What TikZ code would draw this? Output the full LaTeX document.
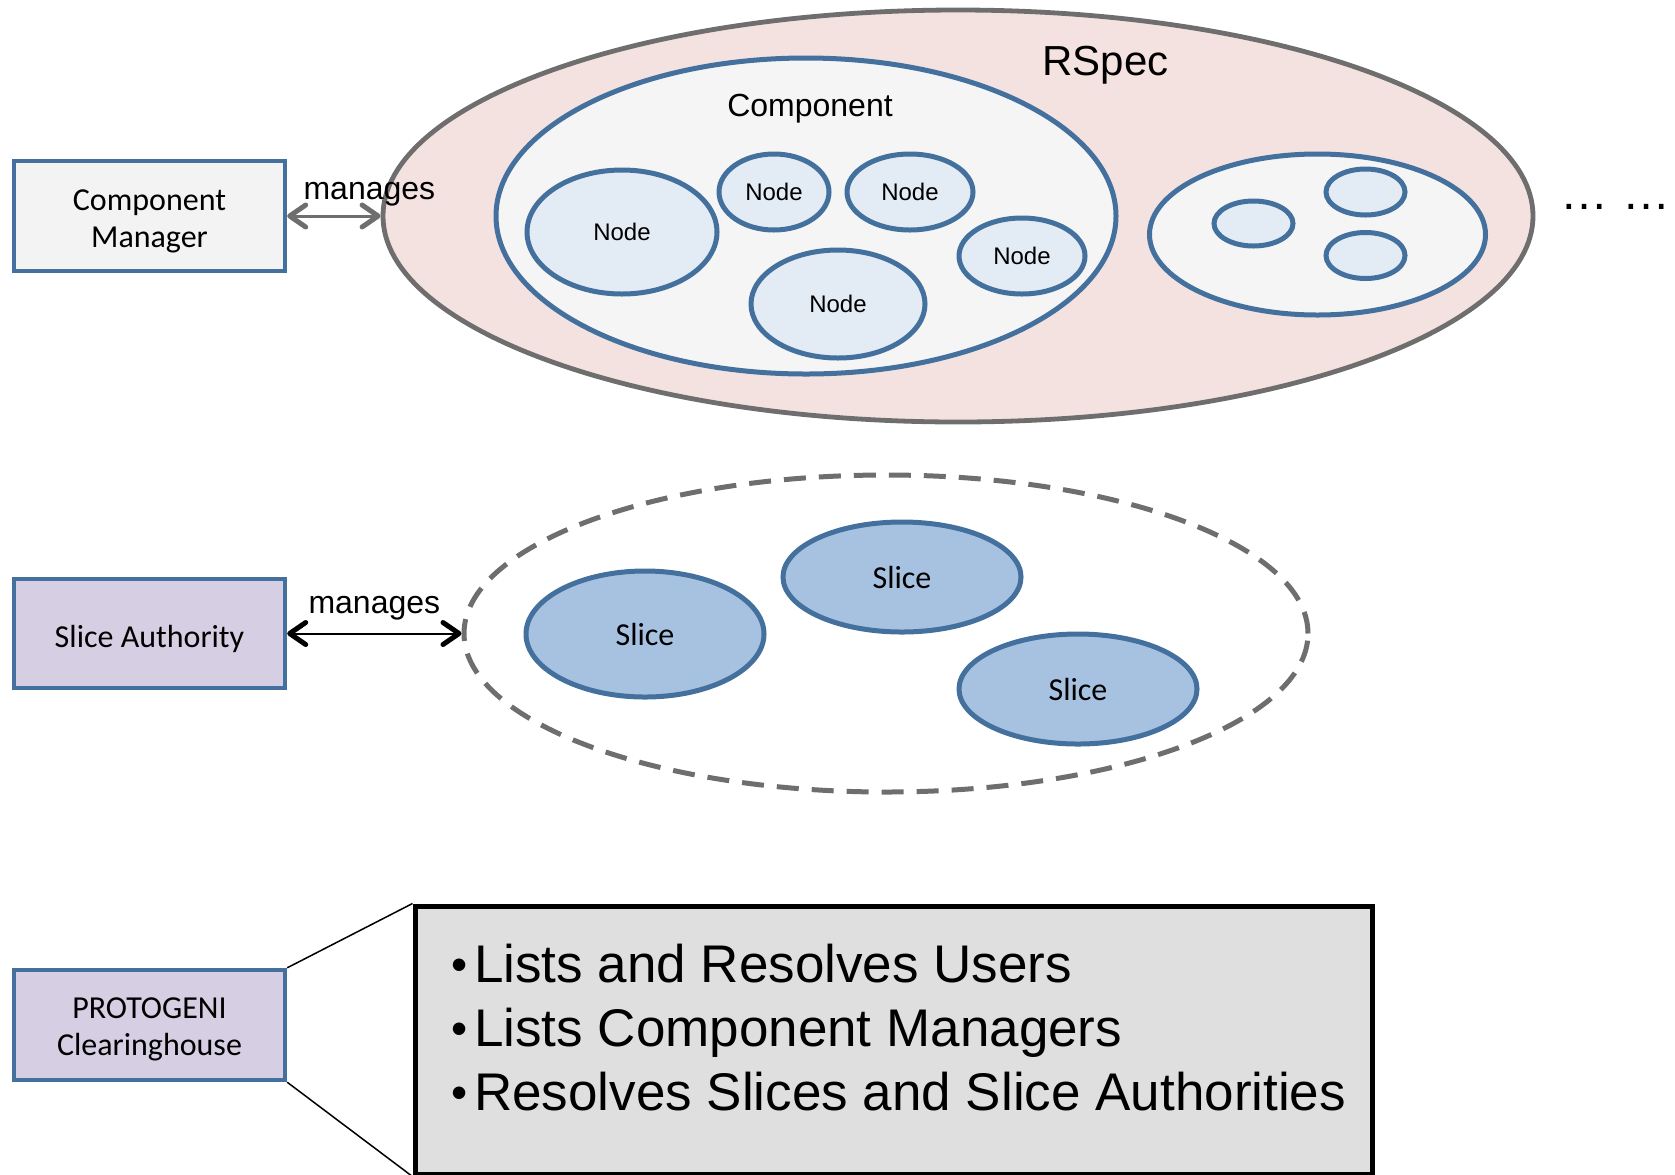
\documentclass[tikz,border=0pt]{standalone}
\usepackage{fontspec}
\setmainfont{Liberation Sans}
\newfontfamily\calibrifont{Carlito}
\usetikzlibrary{shapes.geometric,arrows.meta}

\definecolor{pgblue}{HTML}{44709D}
\definecolor{pggray}{HTML}{6E6E6E}
\definecolor{rspecfill}{HTML}{F4E2E1}
\definecolor{compfill}{HTML}{F5F5F5}
\definecolor{nodefill}{HTML}{E3EBF5}
\definecolor{slicefill}{HTML}{A7C1E0}
\definecolor{authfill}{HTML}{D6CEE2}
\definecolor{mgrfill}{HTML}{F3F3F3}
\definecolor{infofill}{HTML}{DFDFDF}

\newcommand{\infodot}{\raisebox{1pt}{\fontsize{23}{23}\selectfont •}\hspace{3.3pt}}

\tikzset{
  barb/.tip={Straight Barb[length=8pt,width=11pt,line width'=2.5pt,round]},
  dims/.style 2 args={minimum width=#1pt, minimum height=#2pt},
  mgrbox/.style={
    rectangle,
    draw=pgblue, line width=2.2pt,
    dims={135.5}{55},
    align=center,
    text depth=0pt, text height=31.5pt,
    font=\calibrifont\fontsize{16}{18.5}\selectfont},
  blob/.style={ellipse, draw=pgblue, line width=2.5pt, inner sep=0pt},
  pcnode/.style={blob, fill=nodefill, font=\fontsize{12}{14}\selectfont},
  slicenode/.style={blob, fill=slicefill, font=\calibrifont\fontsize{16}{18}\selectfont},
  tag/.style={anchor=base, inner sep=0pt},
  manages/.style={text=black, font=\fontsize{16}{18}\selectfont, inner sep=2pt},
  infobox/.style={
    rectangle,
    draw=black, line width=2.5pt,
    fill=infofill,
    dims={478.5}{134}},
  infotext/.style={align=left, inner sep=0pt, font=\fontsize{26.5}{32}\selectfont},
}

\begin{document}
\begin{tikzpicture}[x=0.5pt, y=-0.5pt]

    \useasboundingbox (0,0) rectangle (1675,1174);

    % resources
    \node[ellipse, draw=pggray, line width=2.4pt, fill=rspecfill, dims={575}{206}] (rspec) at (958,216) {};
    \node[tag, font=\fontsize{21}{24}\selectfont] (rspeclbl) at (1105.5,75) {RSpec};

    \node[blob, fill=compfill, dims={310}{158}] (comp) at (806,216) {};
    \node[tag, font=\fontsize{16}{18}\selectfont] (complbl) at (810,116) {Component};

    \node[pcnode, dims={95}{62}] (n1) at (622,232) {Node};
    \node[pcnode, dims={55}{38}] (n2) at (774,192) {Node};
    \node[pcnode, dims={63}{38}] (n3) at (910,192) {Node};
    \node[pcnode, dims={63}{38}] (n4) at (1022,256) {Node};
    \node[pcnode, dims={87}{54}] (n5) at (838,304) {Node};

    \node[blob, fill=compfill, dims={168}{80.5}] (comp2) at (1317.5,234.5) {};
    \node[pcnode, dims={39.5}{22.5}] (m1) at (1253.5,223.5) {};
    \node[pcnode, dims={39.5}{23}] (m2) at (1365.5,192) {};
    \node[pcnode, dims={39.5}{23}] (m3) at (1365.5,255.5) {};

    \node[tag, font=\fontsize{24}{26}\selectfont] (more) at (1615.5,209) {… …};

    % slices
    \node[ellipse, draw=pggray, line width=2.5pt, dash pattern=on 11pt off 6.5pt, dims={422}{158.5}] (pool) at (886,633.5) {};
    \node[slicenode, dims={119}{63}] (sl1) at (645,634) {Slice};
    \node[slicenode, dims={119}{55}] (sl2) at (902,577) {Slice};
    \node[slicenode, dims={119}{55}] (sl3) at (1078,689) {Slice};

    % authorities
    \node[mgrbox, fill=mgrfill] (cm) at (149.5,216) {Component\\Manager};
    \node[mgrbox, fill=authfill, dims={135.5}{54.5}, text height=13.5pt] (sa) at (149.5,633.5) {Slice Authority};
    \node[mgrbox, fill=authfill, text height=30.7pt] (ch) at (149.5,1025) {PROTOGENI\\Clearinghouse};

    \draw[pggray, line width=1.5pt, barb-barb] (cm) -- node[manages, pos=0.88, above=2pt] (cmlbl) {manages} (rspec);
    \draw[black, line width=1pt, barb-barb] (sa) -- node[manages, above=4pt] (salbl) {manages} (pool);

    % clearinghouse callout
    \node[infobox] (info) at (893.5,1040) {};
    \node[infotext, anchor=north west] (infolist) at (451,944)
        {\infodot Lists and Resolves Users\\\infodot Lists Component Managers\\\infodot Resolves Slices and Slice Authorities};

    \draw[line width=0.75pt] (ch.north east) -- (info.north west);
    \draw[line width=0.75pt] (ch.south east) -- (info.south west);
\end{tikzpicture}
\end{document}
